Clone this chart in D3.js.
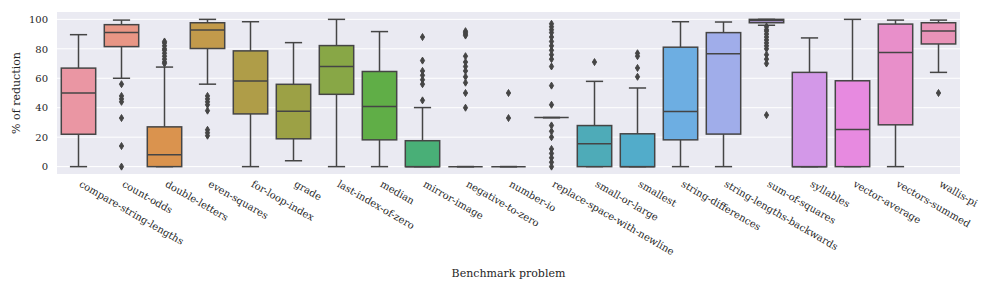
<!DOCTYPE html>
<html lang="en">
<head>
<meta charset="UTF-8">
<title>% of reduction by benchmark problem</title>
<script src="https://d3js.org/d3.v7.min.js"></script>
<style>
    body { margin: 0; background: #fff; }
    svg { display: block; font-family: "DejaVu Serif", serif; }
    .tick text { fill: #262626; font-size: 10px; }
    .axis-label { fill: #262626; font-size: 11px; }
</style>
</head>
<body>
<svg width="997" height="291"></svg>
<script>
// Benchmark problems (x categories)
const categories = [
    "compare-string-lengths", "count-odds", "double-letters", "even-squares",
    "for-loop-index", "grade", "last-index-of-zero", "median", "mirror-image",
    "negative-to-zero", "number-io", "replace-space-with-newline", "small-or-large",
    "smallest", "string-differences", "string-lengths-backwards", "sum-of-squares",
    "syllables", "vector-average", "vectors-summed", "wallis-pi"
];

// box statistics (% of reduction)
const whiskerLo = [0, 60, 0, 56, 0, 4, 0, 0, 0, 0, 0, 33.3, 0, 0, 0, 0, 96, 0, 0, 0, 64];
const q1        = [22, 81.5, 0, 80.2, 35.8, 18.9, 49.1, 18.2, 0, 0, 0, 33.3, 0, 0, 18.2, 22.1, 97.7, 0, 0, 28.4, 83.3];
const medians   = [50, 91, 8, 92.8, 58.1, 37.6, 68, 40.8, 0, 0, 0, 33.3, 15.5, 0, 37.4, 76.6, 99.2, 0, 25.2, 77.5, 92.1];
const q3        = [66.9, 96.4, 27, 97.7, 78.6, 55.9, 82.2, 64.6, 17.6, 0, 0, 33.3, 27.9, 22.3, 81.1, 91, 100, 64, 58.3, 96.8, 97.7];
const whiskerHi = [89.6, 99.5, 67.6, 100, 98.4, 84.2, 100, 91.7, 40.1, 0, 0, 33.3, 57.9, 53.4, 98.4, 98.2, 100, 87.4, 100, 99.5, 99.5];

const outliers = [
    [],
    [56, 48, 46, 44, 33, 14, 0],
    [70, 71, 73, 75, 77, 79, 80, 82, 84, 85],
    [48, 46, 44, 42, 38, 25, 23, 21],
    [],
    [],
    [],
    [],
    [88, 72, 65, 62, 59, 56, 45],
    [92, 91, 90, 89, 75, 71, 68, 65, 61, 57, 50, 40],
    [50, 33],
    [97, 95, 93, 91, 88, 85, 82, 79, 76, 73, 68, 55, 42, 28, 24, 20, 12, 9, 6, 3, 0],
    [71],
    [77, 75, 67, 61],
    [],
    [],
    [95, 93, 92, 90, 88, 86, 84, 82, 80, 76, 73, 70, 35],
    [],
    [],
    [],
    [50]
];

const yTicks = [0, 20, 40, 60, 80, 100];

// --- husl palette (same maths as seaborn's husl module) ---
const M = [
    [3.2406, -1.5372, -0.4986],
    [-0.9689, 1.8758, 0.0415],
    [0.0557, -0.2040, 1.0570]
];
const refU = 0.19784, refV = 0.46834, labE = 0.008856, labK = 903.3;

function maxChroma(L, H) {
    const hrad = H / 180 * Math.PI, sinH = Math.sin(hrad), cosH = Math.cos(hrad);
    const sub1 = Math.pow(L + 16, 3) / 1560896;
    const sub2 = sub1 > 0.008856 ? sub1 : L / 903.3;
    let result = Infinity;
    M.forEach(([m1, m2, m3]) => {
        const top = (0.99915 * m1 + 1.05122 * m2 + 1.14460 * m3) * sub2;
        const rb = 0.86330 * m3 - 0.17266 * m2;
        const lb = 0.12949 * m3 - 0.38848 * m1;
        const bottom = (rb * sinH + lb * cosH) * sub2;
        [0, 1].forEach(t => {
            const C = L * (top - 1.05122 * t) / (bottom + 0.17266 * sinH * t);
            if (C > 0 && C < result) result = C;
        });
    });
    return result;
}

function huslToRgb(H, S, L) {
    const C = maxChroma(L, H) / 100 * S;
    const hrad = H / 180 * Math.PI;
    const U = Math.cos(hrad) * C, V = Math.sin(hrad) * C;
    const t = (L + 16) / 116;
    const Y = Math.pow(t, 3) > labE ? Math.pow(t, 3) : (116 * t - 16) / labK;
    const vU = U / (13 * L) + refU, vV = V / (13 * L) + refV;
    const X = -(9 * Y * vU) / ((vU - 4) * vV - vU * vV);
    const Z = (9 * Y - 15 * vV * Y - vV * X) / (3 * vV);
    return M.map(r => {
        let c = r[0] * X + r[1] * Y + r[2] * Z;
        c = c <= 0.0031308 ? 12.92 * c : 1.055 * Math.pow(c, 1 / 2.4) - 0.055;
        return Math.max(0, Math.min(1, c));
    });
}

// seaborn uses husl_palette(n, l=.7) for many levels, then desaturates to .75
const colors = categories.map((c, i) => {
    const h = ((i / categories.length + 0.01) % 1) * 359;
    const [r, g, b] = huslToRgb(h, 0.9 * 99, 0.7 * 99);
    const hsl = d3.hsl(d3.rgb(r * 255, g * 255, b * 255));
    hsl.s *= 0.75;
    return hsl;
});
const lum = d3.min(colors, c => c.l) * 0.6;
const gray = d3.rgb(lum * 255, lum * 255, lum * 255).formatHex();

// --- chart ---
const width = 997, height = 291;
const margin = {top: 12, right: 37, bottom: 117, left: 57};

const svg = d3.select("svg");

const x = d3.scaleBand()
    .domain(categories)
    .range([margin.left, width - margin.right])
    .padding(0);

const y = d3.scaleLinear()
    .domain([-5, 105])
    .range([height - margin.bottom, margin.top]);

// background + grid
svg.append("rect")
    .attr("x", margin.left)
    .attr("y", margin.top)
    .attr("width", width - margin.left - margin.right)
    .attr("height", height - margin.top - margin.bottom)
    .attr("fill", "#eaeaf2");

svg.append("g")
    .selectAll("line")
    .data(yTicks)
    .join("line")
    .attr("x1", margin.left)
    .attr("x2", width - margin.right)
    .attr("y1", d => y(d))
    .attr("y2", d => y(d))
    .attr("stroke", "#fff")
    .attr("stroke-width", 1);

// axes
const yAxis = svg.append("g")
    .attr("transform", `translate(${margin.left},0)`)
    .attr("font-family", null)
    .call(d3.axisLeft(y).tickValues(yTicks).tickSize(0).tickPadding(9));
yAxis.attr("font-family", null).select(".domain").remove();

const xAxis = svg.append("g")
    .attr("transform", `translate(0,${height - margin.bottom})`)
    .call(d3.axisBottom(x).tickSize(0).tickPadding(0));
xAxis.attr("font-family", null).select(".domain").remove();
xAxis.selectAll(".tick text")
    .attr("text-anchor", "start")
    .attr("y", 0)
    .attr("dy", 0)
    .attr("transform", "translate(4,5) rotate(30) translate(0,8)");

svg.append("text")
    .attr("class", "axis-label")
    .attr("text-anchor", "middle")
    .attr("x", (margin.left + width - margin.right) / 2)
    .attr("y", 277)
    .text("Benchmark problem");

svg.append("text")
    .attr("class", "axis-label")
    .attr("text-anchor", "middle")
    .attr("transform", "rotate(-90)")
    .attr("x", -(margin.top + height - margin.bottom) / 2)
    .attr("y", 20)
    .text("% of reduction");

// boxes
const bw = x.bandwidth() * 0.8;
const cx = i => x(categories[i]) + x.bandwidth() / 2;

const boxes = svg.append("g")
    .selectAll("g")
    .data(categories.map((c, i) => i))
    .join("g");

// whiskers
boxes.append("line")
    .attr("x1", cx).attr("x2", cx)
    .attr("y1", i => y(q3[i])).attr("y2", i => y(whiskerHi[i]))
    .attr("stroke", gray).attr("stroke-width", 1.5);
boxes.append("line")
    .attr("x1", cx).attr("x2", cx)
    .attr("y1", i => y(q1[i])).attr("y2", i => y(whiskerLo[i]))
    .attr("stroke", gray).attr("stroke-width", 1.5);
// caps
[whiskerHi, whiskerLo].forEach(arr => {
    boxes.append("line")
        .attr("x1", i => cx(i) - bw / 4).attr("x2", i => cx(i) + bw / 4)
        .attr("y1", i => y(arr[i])).attr("y2", i => y(arr[i]))
        .attr("stroke", gray).attr("stroke-width", 1.5);
});

boxes.append("rect")
    .attr("x", i => cx(i) - bw / 2)
    .attr("width", bw)
    .attr("y", i => y(q3[i]))
    .attr("height", i => y(q1[i]) - y(q3[i]))
    .attr("fill", i => colors[i].formatHex())
    .attr("stroke", gray)
    .attr("stroke-width", 1.5);

boxes.append("line")
    .attr("x1", i => cx(i) - bw / 2).attr("x2", i => cx(i) + bw / 2)
    .attr("y1", i => y(medians[i])).attr("y2", i => y(medians[i]))
    .attr("stroke", gray).attr("stroke-width", 1.5);

// outliers (thin diamonds)
const diamond = "M0,-3.5L2.1,0L0,3.5L-2.1,0Z";
boxes.selectAll("path.flier")
    .data(i => outliers[i].map(v => ({i, v})))
    .join("path")
    .attr("class", "flier")
    .attr("d", diamond)
    .attr("transform", d => `translate(${cx(d.i)},${y(d.v)})`)
    .attr("fill", gray)
    .attr("stroke", gray)
    .attr("stroke-width", 1);
</script>
</body>
</html>
